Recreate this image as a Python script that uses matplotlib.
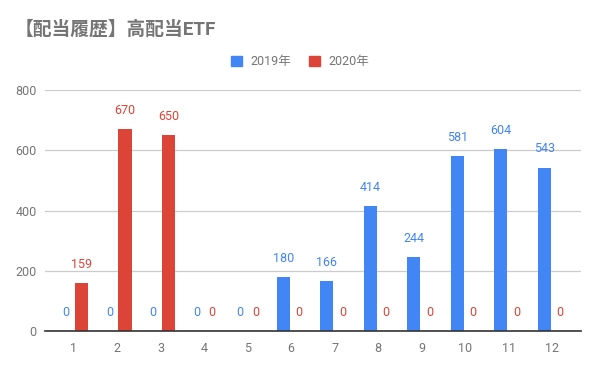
import numpy as np
import matplotlib
matplotlib.use('Agg')
import matplotlib.pyplot as plt
from matplotlib.patches import Patch

plt.rcParams['font.family'] = ['Roboto', 'Noto Sans CJK JP', 'DejaVu Sans']

months = list(range(1, 13))
div_2019 = [0, 0, 0, 0, 0, 180, 166, 414, 244, 581, 604, 543]
div_2020 = [159, 670, 650, 0, 0, 0, 0, 0, 0, 0, 0, 0]
series_names = ['2019年', '2020年']
y_ticks = [0, 200, 400, 600, 800]

blue = '#4285F4'
red = '#DB4437'
gray = '#757575'

fig = plt.figure(figsize=(6, 3.71), dpi=100)
ax = fig.add_axes([0.075, 0.108, 0.893, 0.649])

x = np.array(months)
off = 0.18
w = 0.3
ax.bar(x - off, div_2019, width=w, color=blue, zorder=3)
ax.bar(x + off, div_2020, width=w, color=red, zorder=3)

# data labels
for xi, v in zip(x, div_2019):
    ax.annotate(str(v), (xi - off, v), xytext=(0, 13.5), textcoords='offset points',
                ha='center', va='center', color=blue, fontsize=9, clip_on=False)
for xi, v in zip(x, div_2020):
    ax.annotate(str(v), (xi + off, v), xytext=(0, 13.5), textcoords='offset points',
                ha='center', va='center', color=red, fontsize=9, clip_on=False)

ax.set_xlim(0.34, 12.66)
ax.set_ylim(0, 800)
ax.set_yticks(y_ticks)
ax.set_xticks(months)
ax.tick_params(axis='both', length=0, colors=gray, labelsize=9)
ax.tick_params(axis='x', pad=8)
ax.tick_params(axis='y', pad=6)
ax.grid(axis='y', color='#cccccc', linewidth=0.9, zorder=0)
for s in ['left', 'right', 'top']:
    ax.spines[s].set_visible(False)
ax.spines['bottom'].set_color('#333333')
ax.spines['bottom'].set_linewidth(1.2)
ax.spines['bottom'].set_zorder(4)

fig.text(0.025, 0.92, '【配当履歴】高配当ETF', fontsize=13.5, fontweight='bold',
         color=gray, ha='left', va='center')

handles = [Patch(color=blue), Patch(color=red)]
fig.legend(handles, series_names, loc='center', bbox_to_anchor=(0.5, 0.833),
           ncol=2, frameon=False, fontsize=9, labelcolor=gray,
           handlelength=0.9, handleheight=0.9, handletextpad=0.7, columnspacing=1.4)

fig.savefig('out.png', dpi=100)
